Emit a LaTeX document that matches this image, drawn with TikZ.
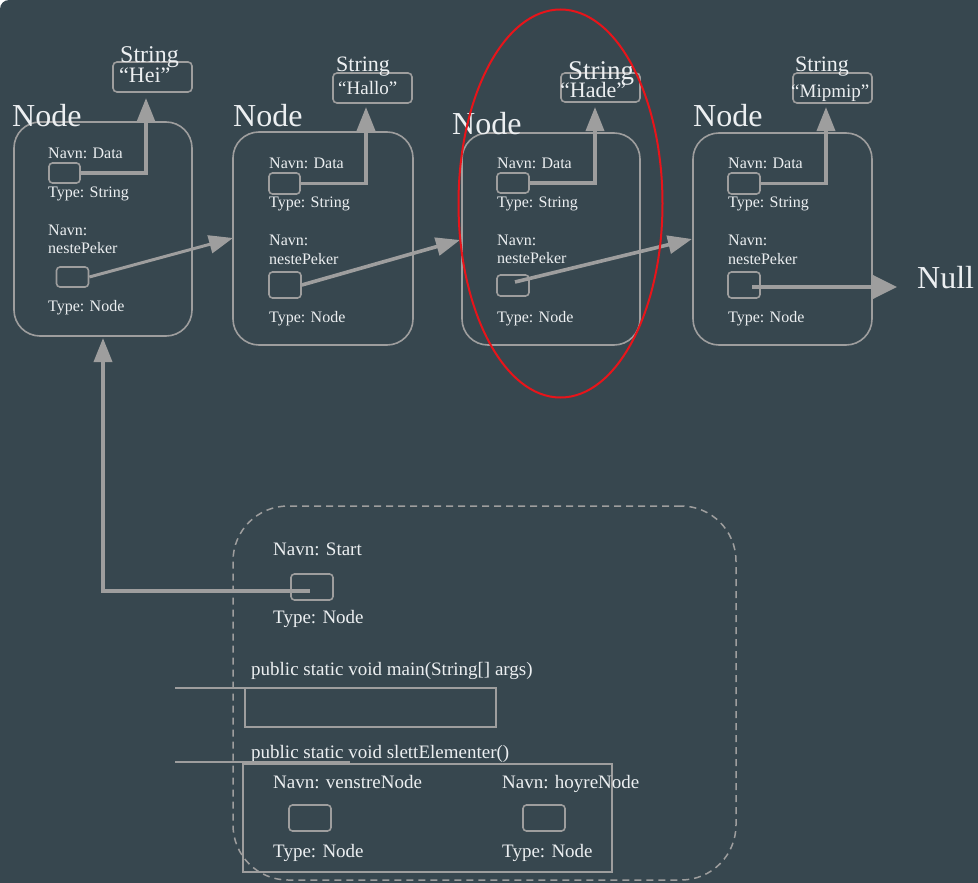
\documentclass[tikz,border=0pt]{standalone}
\usepackage{fontspec}
\setmainfont{Liberation Serif}
\usetikzlibrary{arrows.meta}
\definecolor{bg}{HTML}{37474F}
\definecolor{ln}{HTML}{9E9E9E}
\definecolor{tx}{HTML}{ECEFF1}
\definecolor{ring}{HTML}{E8141A}

\tikzset{
  objbox/.style={draw=ln, line width=1.6pt, rounded corners=26pt, inner sep=0pt},
  slot/.style={draw=ln, line width=1.6pt, rounded corners=3.5pt, inner sep=0pt,
               minimum width=32pt, minimum height=21pt},
  strbox/.style={draw=ln, line width=1.6pt, rounded corners=4pt, inner sep=0pt,
                 minimum width=79pt, minimum height=30pt},
  plainbox/.style={draw=ln, line width=1.5pt, inner sep=0pt},
  lbl/.style={text=tx, inner sep=0pt, anchor=base west},
  small/.style={lbl, font=\fontsize{16}{19}\selectfont},
  mid/.style={lbl, font=\fontsize{19}{22}\selectfont},
  big/.style={lbl, font=\fontsize{32}{36}\selectfont},
  ptr/.style={draw=ln, line width=3.6pt, -{Triangle[length=24pt,width=18pt]}},
  thinline/.style={draw=ln, line width=1.5pt},
}

\begin{document}
\begin{tikzpicture}[x=1pt, y=-1pt]
\useasboundingbox (0,0) rectangle (978,883);
\fill[bg] (0,0) rectangle (978,883);
% rounded top-left corner of the canvas
\fill[white] (0,0) rectangle (9,9);
\fill[bg] (9,9) circle [radius=9pt];

% ---------- first list node ----------
\node[objbox, minimum width=178pt, minimum height=214pt] (n1) at (103,229) {};
\node[big] (n1t) at (12,127) {Node};
\node[small] (n1a) at (48,158) {Navn: Data};
\node[slot, minimum width=31pt, minimum height=20pt] (d1) at (64.5,173) {};
\node[small] (n1b) at (48,197) {Type: String};
\node[small] (n1c) at (48,235) {Navn:};
\node[small] (n1d) at (48,253) {nestePeker};
\node[slot, minimum height=20pt] (p1) at (72.5,277) {};
\node[small] (n1e) at (48,311) {Type: Node};
\node[strbox] (s1) at (152.5,77) {};
\node[lbl, font=\fontsize{24}{26}\selectfont] (s1t) at (120,63) {String};
\node[lbl, font=\fontsize{22}{24}\selectfont] (s1v) at (119,83) {“Hei”};

% ---------- second list node ----------
\node[objbox, minimum width=180pt, minimum height=213pt] (n2) at (323,238.5) {};
\node[big] (n2t) at (233,127) {Node};
\node[small] (n2a) at (269,168) {Navn: Data};
\node[slot, minimum width=31pt] (d2) at (284.5,183.5) {};
\node[small] (n2b) at (269,207) {Type: String};
\node[small] (n2c) at (269,245) {Navn:};
\node[small] (n2d) at (269,264) {nestePeker};
\node[slot, minimum height=26pt] (p2) at (285,285) {};
\node[small] (n2e) at (269,322) {Type: Node};
\node[strbox] (s2) at (372.5,88) {};
\node[lbl, font=\fontsize{22}{24}\selectfont] (s2t) at (336,72) {String};
\node[lbl, font=\fontsize{19}{22}\selectfont] (s2v) at (338,95) {“Hallo”};

% ---------- third list node ----------
\node[objbox, minimum width=178pt, minimum height=212pt] (n3) at (551,239) {};
\node[big] (n3t) at (452,135) {Node};
\node[small] (n3a) at (497,168) {Navn: Data};
\node[slot, minimum height=20pt] (d3) at (513,183) {};
\node[small] (n3b) at (497,207) {Type: String};
\node[small] (n3c) at (497,245) {Navn:};
\node[small] (n3d) at (497,263) {nestePeker};
\node[slot] (p3) at (513,285.5) {};
\node[small] (n3e) at (497,322) {Type: Node};
\node[strbox, minimum height=29pt] (s3) at (600.5,87.5) {};
\node[lbl, font=\fontsize{27}{30}\selectfont] (s3t) at (568,80) {String};
\node[lbl, font=\fontsize{22}{24}\selectfont] (s3v) at (560,97) {“Hade”};

% ---------- fourth list node ----------
\node[objbox, minimum width=179pt, minimum height=212pt] (n4) at (782.5,239) {};
\node[big] (n4t) at (693,127) {Node};
\node[small] (n4a) at (728,168) {Navn: Data};
\node[slot] (d4) at (744,183.5) {};
\node[small] (n4b) at (728,207) {Type: String};
\node[small] (n4c) at (728,245) {Navn:};
\node[small] (n4d) at (728,264) {nestePeker};
\node[slot, minimum height=26pt] (p4) at (744,285) {};
\node[small] (n4e) at (728,322) {Type: Node};
\node[strbox] (s4) at (832.5,88) {};
\node[lbl, font=\fontsize{22}{24}\selectfont] (s4t) at (795,72) {String};
\node[lbl, font=\fontsize{19}{22}\selectfont] (s4v) at (791,97) {“Mipmip”};
\node[big] (null) at (917,288) {Null};

% ---------- references ----------
\coordinate (t1) at (146,98);
\coordinate (t2) at (366,107);
\coordinate (t3) at (595,107);
\coordinate (t4) at (826,107);
\coordinate (h2) at (233,238);
\coordinate (h3) at (460,240);
\coordinate (h4) at (692,239);
\coordinate (hn) at (897,287);
\draw[ptr] (d1.east) -| (t1);
\draw[ptr] (d2.east) -| (t2);
\draw[ptr] (d3.east) -| (t3);
\draw[ptr] (d4.east) -| (t4);
\draw[ptr, line width=3pt] (p1.east) -- (h2);
\draw[ptr] (p2.east) -- (h3);
\draw[ptr] ([xshift=2pt,yshift=3.5pt]p3.center) -- (h4);
\draw[draw=ln, line width=3.6pt, -{Triangle[length=24pt,width=23pt]}]
  ([xshift=8pt,yshift=-2pt]p4.center) -- (hn);

% highlight ring around the third node
\draw[ring, line width=2pt] (560.5,203.5) ellipse [x radius=102pt, y radius=194pt];

% ---------- stack frame ----------
\node[draw=ln, dash pattern=on 7pt off 5pt, line width=1.5pt, rounded corners=55pt,
      inner sep=0pt, minimum width=503pt, minimum height=374pt] (frame) at (484.5,693) {};
\node[mid] (st1) at (273,555) {Navn: Start};
\node[slot, minimum width=42pt, minimum height=26pt] (st) at (312,587) {};
\node[mid] (st2) at (273,623) {Type: Node};
\coordinate (t0) at (103,338);
\draw[ptr] ([xshift=-2pt,yshift=-4pt]st.center) -| (t0);

\node[mid] (mainsig) at (251,675) {public static void main(String[] args)};
\node[plainbox, minimum width=251pt, minimum height=39pt] (mainbox) at (370.5,707.5) {};
\coordinate (m0) at (175,688);
\coordinate (m1) at (350,688);
\draw[thinline] (m0) -- (m1);

\node[mid] (slettsig) at (251,758) {public static void slettElementer()};
\node[plainbox, minimum width=369pt, minimum height=108pt] (slettbox) at (427.5,818) {};
\coordinate (e0) at (175,762);
\coordinate (e1) at (350,762);
\draw[thinline] (e0) -- (e1);

\node[mid] (v1) at (273,788) {Navn: venstreNode};
\node[slot, minimum width=42pt, minimum height=26pt] (vs) at (310,818) {};
\node[mid] (v2) at (273,857) {Type: Node};
\node[mid] (r1) at (502,788) {Navn: hoyreNode};
\node[slot, minimum width=42pt, minimum height=26pt] (rs) at (544,818) {};
\node[mid] (r2) at (502,857) {Type: Node};
\end{tikzpicture}
\end{document}
